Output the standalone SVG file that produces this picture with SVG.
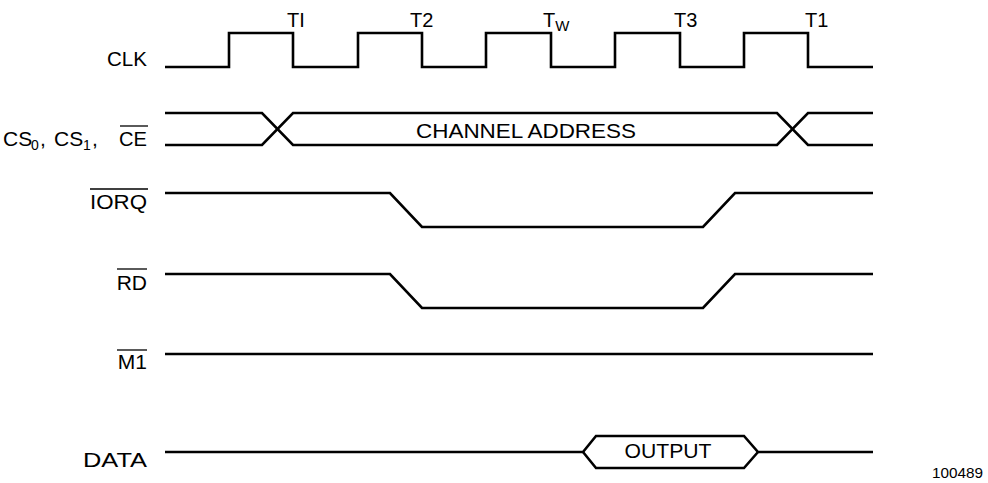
<svg xmlns="http://www.w3.org/2000/svg" width="988" height="483" viewBox="0 0 988 483">
<style>
  .sig{fill:none;stroke:#000;stroke-width:2.6;stroke-linejoin:miter}
  .ov{stroke:#000;stroke-width:1.3}
  text{font-family:"Liberation Sans",Arial,sans-serif;fill:#000}
  .lbl{font-size:21px;text-anchor:end}
  .t{font-size:20px}
  .sub{font-size:14px}
</style>
<rect width="988" height="483" fill="#fff"/>
<g id="clk">
  <text class="lbl" x="147" y="66" textLength="40" lengthAdjust="spacingAndGlyphs">CLK</text>
  <path class="sig" d="M165,67 H229 V33 H293 V67 H358 V33 H422 V67 H486 V33 H551 V67 H615 V33 H680 V67 H744 V33 H808 V67 H873"/>
  <text class="t" x="287" y="27">TI</text>
  <text class="t" x="410" y="27">T2</text>
  <text class="t" x="543" y="27">T<tspan class="sub" dy="4" style="font-size:15px">W</tspan></text>
  <text class="t" x="674" y="27">T3</text>
  <text class="t" x="805" y="27">T1</text>
</g>
<g id="cs">
  <text style="font-size:21px" x="3" y="146">CS</text>
  <text class="sub" x="31" y="150">0</text>
  <text style="font-size:21px" x="40" y="146">,</text>
  <text style="font-size:21px" x="54" y="146">CS</text>
  <text class="sub" x="83" y="150">1</text>
  <text style="font-size:21px" x="92" y="146">,</text>
  <text style="font-size:21px" x="119" y="146" textLength="28" lengthAdjust="spacingAndGlyphs">CE</text>
  <line class="ov" x1="120" y1="126" x2="148" y2="126"/>
  <path class="sig" d="M165,113 H262 L293,145 H777 L808,113 H873"/>
  <path class="sig" d="M165,145 H262 L293,113 H777 L808,145 H873"/>
  <text style="font-size:21px" x="526" y="138" text-anchor="middle" textLength="220" lengthAdjust="spacingAndGlyphs">CHANNEL ADDRESS</text>
</g>
<g id="iorq">
  <text class="lbl" x="147" y="209" textLength="57" lengthAdjust="spacingAndGlyphs">IORQ</text>
  <line class="ov" x1="90" y1="189" x2="148" y2="189"/>
  <path class="sig" d="M165,193 H390 L422,227 H703 L735,193 H873"/>
</g>
<g id="rd">
  <text class="lbl" x="147" y="290">RD</text>
  <line class="ov" x1="117" y1="269" x2="147" y2="269"/>
  <path class="sig" d="M165,274 H390 L422,308 H703 L735,274 H873"/>
</g>
<g id="m1">
  <text class="lbl" x="147" y="369">M1</text>
  <line class="ov" x1="117" y1="350" x2="147" y2="350"/>
  <path class="sig" d="M165,354 H873"/>
</g>
<g id="data">
  <text class="lbl" x="147" y="467" textLength="64" lengthAdjust="spacingAndGlyphs">DATA</text>
  <path class="sig" d="M165,452 H583 L596,436 H744 L758,452 H873"/>
  <path class="sig" d="M583,452 L596,468 H744 L758,452"/>
  <text style="font-size:21px" x="668" y="458" text-anchor="middle" textLength="87" lengthAdjust="spacingAndGlyphs">OUTPUT</text>
</g>
<text id="fig" x="983" y="478" text-anchor="end" style="font-size:14px" textLength="51" lengthAdjust="spacingAndGlyphs">100489</text>
</svg>
